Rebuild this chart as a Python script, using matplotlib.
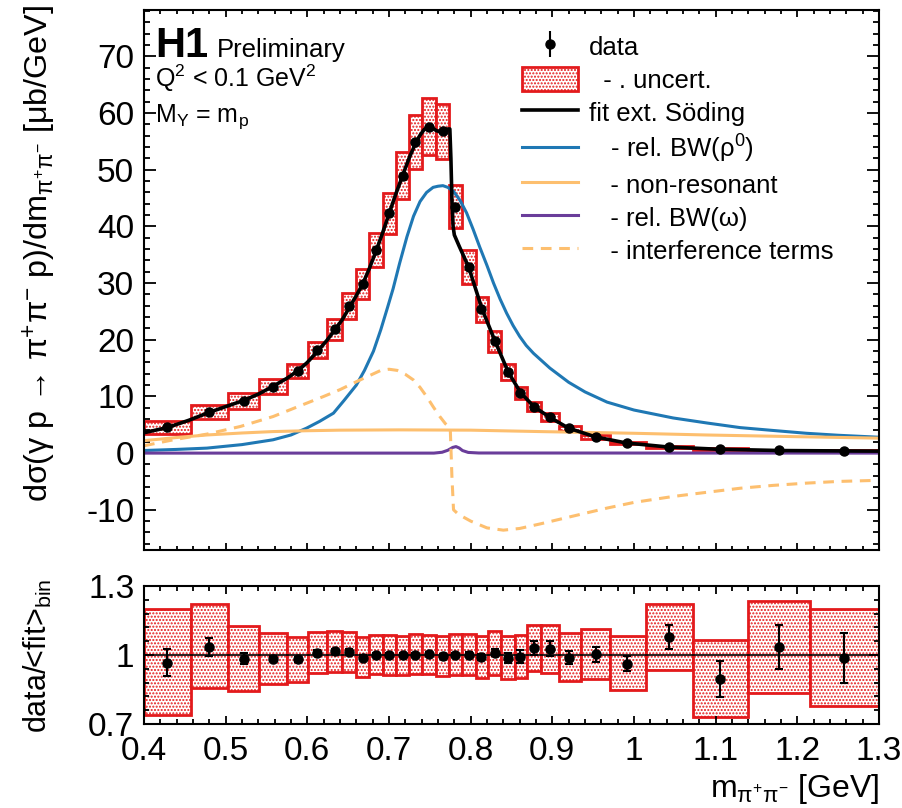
import numpy as np
import matplotlib
matplotlib.use('Agg')
import matplotlib.pyplot as plt
from matplotlib.ticker import MultipleLocator, FixedLocator, FuncFormatter
from matplotlib.patches import Patch
from matplotlib.lines import Line2D

# colores
red = '#e31a1c'
blue = '#1f78b4'
orange = '#fdbf6f'
purple = '#6a3d9a'

plt.rcParams['font.family'] = ['Liberation Sans', 'DejaVu Sans']
plt.rcParams['mathtext.fontset'] = 'custom'
plt.rcParams['mathtext.rm'] = 'Liberation Sans'
plt.rcParams['mathtext.it'] = 'Liberation Sans:italic'
plt.rcParams['mathtext.bf'] = 'Liberation Sans:bold'
plt.rcParams['mathtext.default'] = 'regular'
plt.rcParams['hatch.color'] = red
plt.rcParams['hatch.linewidth'] = 1.0

# bordes de los bins en m_pipi [GeV]
bin_edges = [0.400, 0.457, 0.503, 0.541, 0.575, 0.601, 0.624, 0.643, 0.660, 0.676,
             0.693, 0.709, 0.725, 0.741, 0.758, 0.774, 0.789, 0.806, 0.821, 0.8375,
             0.854, 0.869, 0.8865, 0.908, 0.935, 0.970, 1.015, 1.072, 1.139, 1.2155, 1.300]

# puntos de datos
data_m = [0.4285, 0.480, 0.522, 0.558, 0.588, 0.612, 0.6335, 0.6514, 0.668, 0.684,
          0.700, 0.717, 0.732, 0.749, 0.766, 0.781, 0.798, 0.813, 0.830, 0.846,
          0.861, 0.8775, 0.897, 0.921, 0.953, 0.992, 1.043, 1.105, 1.177, 1.257]
data_xs = [4.52, 7.28, 9.17, 11.75, 14.46, 18.22, 21.87, 25.98, 29.86, 35.86,
           42.33, 48.96, 54.9, 57.6, 56.84, 43.5, 32.8, 25.4, 19.7, 14.34,
           10.6, 8.2, 6.35, 4.4, 2.82, 1.76, 1.06, 0.70, 0.46, 0.40]
data_err = [0.26, 0.28, 0.23, 0.14, 0.17, 0.2, 0.22, 0.26, 0.3, 0.33,
            0.38, 0.44, 0.5, 0.52, 0.5, 0.45, 0.4, 0.35, 0.3, 0.28,
            0.3, 0.25, 0.2, 0.13, 0.09, 0.06, 0.06, 0.05, 0.045, 0.04]
# semi-anchura de la caja de incertidumbre
unc_half = [1.23, 1.25, 1.35, 1.3, 1.24, 1.46, 1.88, 2.28, 2.7, 3.0,
            3.63, 4.2, 4.75, 5.05, 4.85, 3.85, 3.0, 2.2, 1.85, 1.36,
            1.0, 0.82, 0.65, 0.46, 0.31, 0.21, 0.15, 0.12, 0.095, 0.084]

# curva del ajuste
fit_m = [0.400, 0.4285, 0.455, 0.480, 0.500, 0.522, 0.540, 0.558, 0.575, 0.588,
         0.600, 0.612, 0.624, 0.634, 0.643, 0.651, 0.660, 0.668, 0.676, 0.684,
         0.692, 0.700, 0.708, 0.717, 0.725, 0.732, 0.738, 0.743, 0.748, 0.753,
         0.758, 0.763, 0.768, 0.772, 0.7745, 0.7758, 0.7770, 0.7785, 0.7800, 0.786,
         0.7976, 0.814, 0.830, 0.846, 0.861, 0.8775, 0.897, 0.920, 0.953, 0.990,
         1.040, 1.100, 1.180, 1.260, 1.300]
fit_xs = [3.6, 4.5, 5.8, 7.2, 8.2, 9.3, 10.4, 11.8, 13.2, 14.5,
          16.0, 17.9, 19.9, 21.8, 23.6, 25.6, 27.8, 29.9, 32.6, 35.6,
          38.8, 42.2, 45.6, 49.1, 52.2, 54.5, 56.1, 57.1, 57.6, 57.4,
          56.9, 56.7, 56.9, 57.2, 57.2, 52.0, 45.0, 40.0, 38.5, 36.5,
          32.8, 25.4, 19.7, 14.3, 10.7, 8.2, 6.3, 4.4, 2.85, 1.8,
          1.1, 0.7, 0.45, 0.38, 0.35]

# BW relativista del rho0
rho_m = [0.400, 0.440, 0.477, 0.520, 0.558, 0.580, 0.599, 0.615, 0.632, 0.645,
         0.660, 0.670, 0.681, 0.690, 0.698, 0.705, 0.713, 0.722, 0.730, 0.738,
         0.746, 0.754, 0.760, 0.766, 0.772, 0.779, 0.787, 0.795, 0.803, 0.811,
         0.820, 0.828, 0.836, 0.844, 0.852, 0.860, 0.868, 0.877, 0.897, 0.920,
         0.940, 0.967, 1.000, 1.048, 1.090, 1.130, 1.170, 1.211, 1.250, 1.300]
rho_xs = [0.46, 0.65, 0.88, 1.5, 2.35, 3.2, 4.4, 5.6, 7.05, 9.3,
          12.0, 14.6, 18.0, 21.8, 25.6, 29.0, 33.5, 38.2, 41.8, 44.4,
          46.0, 46.9, 47.1, 47.2, 46.9, 46.2, 44.6, 42.4, 39.5, 36.4,
          33.1, 30.0, 27.2, 24.7, 22.5, 20.6, 19.0, 17.6, 15.0, 12.5,
          10.8, 9.0, 7.6, 6.2, 5.3, 4.5, 4.0, 3.5, 3.15, 2.8]

# no resonante
nr_m = [0.400, 0.440, 0.477, 0.520, 0.558, 0.600, 0.640, 0.713, 0.800, 0.885,
        1.000, 1.088, 1.200, 1.300]
nr_xs = [2.2, 2.75, 3.2, 3.55, 3.8, 3.95, 4.05, 4.1, 4.05, 3.8,
         3.5, 3.2, 2.9, 2.64]

# BW relativista del omega
om_m = [0.400, 0.755, 0.765, 0.772, 0.778, 0.782, 0.786, 0.790, 0.797, 0.810, 1.300]
om_xs = [0.0, 0.0, 0.15, 0.5, 1.0, 1.15, 0.9, 0.45, 0.12, 0.02, 0.0]

# terminos de interferencia
int_m = [0.400, 0.436, 0.477, 0.518, 0.558, 0.599, 0.620, 0.640, 0.660, 0.681,
         0.690, 0.700, 0.710, 0.720, 0.730, 0.738, 0.746, 0.754, 0.762, 0.769,
         0.775, 0.777, 0.779, 0.785, 0.800, 0.820, 0.840, 0.860, 0.885, 0.920,
         0.967, 1.000, 1.048, 1.090, 1.130, 1.170, 1.211, 1.250, 1.300]
int_xs = [1.3, 2.35, 3.35, 4.7, 6.45, 8.8, 10.0, 11.2, 12.6, 14.0,
          14.6, 14.8, 14.6, 13.9, 12.9, 11.6, 10.0, 8.2, 6.5, 5.2,
          4.4, -4.0, -10.0, -10.8, -12.0, -13.2, -13.6, -13.3, -12.5, -11.3,
          -9.7, -8.7, -7.65, -6.9, -6.2, -5.7, -5.3, -5.0, -4.8]

# panel del cociente data/<fit>
ratio_val = [0.967, 1.036, 0.984, 0.984, 0.981, 1.010, 1.016, 1.014, 0.988, 1.001,
             1.000, 0.999, 1.001, 1.003, 0.997, 1.001, 1.001, 0.991, 1.009, 0.987,
             0.993, 1.030, 1.028, 0.988, 1.003, 0.962, 1.077, 0.897, 1.035, 0.987]
ratio_err = [0.058, 0.039, 0.025, 0.012, 0.012, 0.01, 0.01, 0.01, 0.01, 0.008,
             0.008, 0.008, 0.008, 0.008, 0.008, 0.008, 0.01, 0.012, 0.015, 0.02,
             0.029, 0.03, 0.032, 0.029, 0.032, 0.033, 0.052, 0.078, 0.097, 0.107]
ratio_hi = [1.199, 1.220, 1.126, 1.097, 1.080, 1.100, 1.106, 1.101, 1.077, 1.087,
            1.087, 1.084, 1.090, 1.088, 1.084, 1.090, 1.093, 1.081, 1.103, 1.081,
            1.088, 1.129, 1.129, 1.094, 1.112, 1.083, 1.220, 1.065, 1.236, 1.200]
ratio_lo = [0.738, 0.855, 0.843, 0.872, 0.883, 0.920, 0.926, 0.926, 0.903, 0.916,
            0.913, 0.912, 0.917, 0.917, 0.909, 0.912, 0.912, 0.901, 0.914, 0.894,
            0.900, 0.932, 0.923, 0.886, 0.894, 0.846, 0.933, 0.730, 0.833, 0.778]

edges = np.array(bin_edges)
widths = np.diff(edges)
dxs = np.array(data_xs)
uh = np.array(unc_half)

W, H = 903, 808
fig = plt.figure(figsize=(W / 100, H / 100), dpi=100)
ax = fig.add_axes([144 / W, 1 - 550 / H, 735 / W, 540 / H])
axr = fig.add_axes([144 / W, 1 - 724 / H, 735 / W, 138 / H])

box_style = dict(align='edge', facecolor='white', edgecolor=red, linewidth=2.0, hatch='.....')
dash = (0, (3.5, 2.5))

# panel principal
ax.bar(edges[:-1], 2 * uh, width=widths, bottom=dxs - uh, zorder=1, **box_style)
ax.plot(rho_m, rho_xs, color=blue, lw=2.2, zorder=2)
ax.plot(nr_m, nr_xs, color=orange, lw=2.2, zorder=2)
ax.plot(om_m, om_xs, color=purple, lw=2.2, zorder=2)
ax.plot(int_m, int_xs, color=orange, lw=2.2, ls=dash, zorder=2)
ax.plot(fit_m, fit_xs, color='black', lw=2.6, zorder=3)
eb = ax.errorbar(data_m, data_xs, yerr=data_err, fmt='o', color='black', ms=6.5,
                 elinewidth=1.5, capsize=0, zorder=5)

ax.set_xlim(0.4, 1.3)
ax.set_ylim(-17.1, 78.2)

handles = [eb,
           Patch(facecolor='white', edgecolor=red, linewidth=2.0, hatch='.....'),
           Line2D([], [], color='black', lw=2.6),
           Line2D([], [], color=blue, lw=2.2),
           Line2D([], [], color=orange, lw=2.2),
           Line2D([], [], color=purple, lw=2.2),
           Line2D([], [], color=orange, lw=2.2, ls=dash)]
labels = ['data', '  - . uncert.', 'fit ext. Söding', '   - rel. BW(ρ$^0$)',
          '   - non-resonant', '   - rel. BW(ω)', '   - interference terms']
ax.legend(handles, labels, loc='upper left', bbox_to_anchor=(0.514, 0.956),
          frameon=False, fontsize=18.5, handlelength=2.2, handleheight=1.1,
          handletextpad=0.42, labelspacing=0.27, borderpad=0, borderaxespad=0)

ax.text(0.015, 0.9135, 'H1', transform=ax.transAxes, fontsize=30,
        fontweight='bold', va='baseline')
ax.text(0.0993, 0.9135, 'Preliminary', transform=ax.transAxes, fontsize=18.5,
        va='baseline')
ax.text(0.015, 0.8574, 'Q$^2$ < 0.1 GeV$^2$', transform=ax.transAxes,
        fontsize=18, va='baseline')
ax.text(0.015, 0.7931, 'M$_Y$ = m$_p$', transform=ax.transAxes,
        fontsize=18, va='baseline')

# panel del cociente
axr.bar(edges[:-1], np.array(ratio_hi) - np.array(ratio_lo), width=widths,
        bottom=ratio_lo, zorder=1, **box_style)
axr.axhline(1.0, color='black', lw=1.2, zorder=2)
axr.errorbar(data_m, ratio_val, yerr=ratio_err, fmt='o', color='black', ms=6.5,
             elinewidth=1.5, capsize=3, capthick=1.5, zorder=5)
axr.set_xlim(0.4, 1.3)
axr.set_ylim(0.7, 1.3)

fmt = FuncFormatter(lambda v, p: '%g' % round(v, 3))
for a in (ax, axr):
    a.xaxis.set_major_locator(MultipleLocator(0.1))
    a.xaxis.set_minor_locator(MultipleLocator(0.02))
    a.tick_params(which='both', direction='in', top=True, right=True,
                  labelsize=24, width=1.3)
    for s in a.spines.values():
        s.set_linewidth(1.5)
ax.yaxis.set_major_locator(MultipleLocator(10))
ax.yaxis.set_minor_locator(MultipleLocator(2))
ax.tick_params(axis='x', which='major', length=5, labelbottom=False)
ax.tick_params(axis='x', which='minor', length=3)
ax.tick_params(axis='y', which='major', length=8.6, pad=7)
ax.tick_params(axis='y', which='minor', length=4.3)
ax.yaxis.set_major_formatter(fmt)

axr.yaxis.set_major_locator(FixedLocator([0.7, 1.0, 1.3]))
axr.yaxis.set_minor_locator(FixedLocator(np.arange(0.7, 1.3001, 0.06)))
axr.tick_params(axis='x', which='major', length=6, pad=9)
axr.tick_params(axis='x', which='minor', length=3.4)
axr.tick_params(axis='y', which='major', length=7, pad=7)
axr.tick_params(axis='y', which='minor', length=3.6)
axr.xaxis.set_major_formatter(fmt)
axr.yaxis.set_major_formatter(fmt)

fig.text(40 / W, 1 - 5 / H, 'dσ(γ p → π$^{+}$π$^{-}$ p)/dm$_{π^{+}π^{-}}$ [μb/GeV]',
         rotation=90, ha='center', va='top', fontsize=23.3)
fig.text(38 / W, 1 - 656 / H, 'data/<fit>$_{bin}$', rotation=90, ha='center',
         va='center', fontsize=22)
fig.text(879 / W, 1 - 797 / H, 'm$_{π^{+}π^{-}}$ [GeV]', ha='right', va='baseline',
         fontsize=23)

plt.savefig('out.png', dpi=100)
